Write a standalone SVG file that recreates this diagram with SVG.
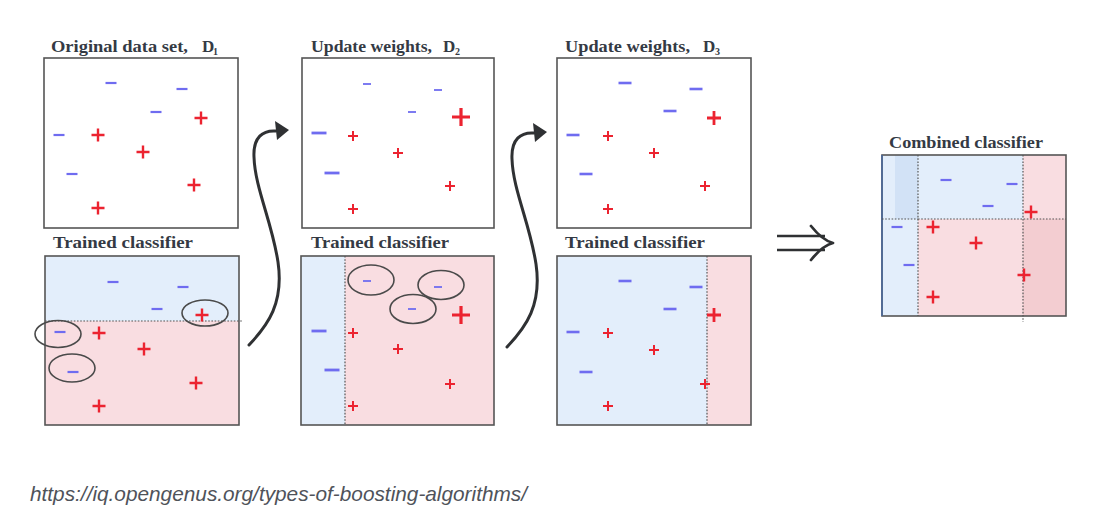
<svg xmlns="http://www.w3.org/2000/svg" width="1108" height="530" viewBox="0 0 1108 530">
<style>
.box{fill:none;stroke:#555;stroke-width:1.6}
.bl{fill:#e3eefb}
.pk{fill:#f9dde1}
.dot{stroke:#555;stroke-width:1.2;stroke-dasharray:1.6,1.6;fill:none}
.ttl{font-family:"Liberation Serif","Times New Roman",serif;font-weight:bold;font-size:17px;fill:#343a44}
.sub{font-family:"Liberation Serif","Times New Roman",serif;font-weight:bold;font-size:10px;fill:#343a44}
.neg{stroke:#6f6cf0;stroke-linecap:butt;fill:none}
.pos{stroke:#ec2330;stroke-linecap:butt;fill:none}
.ell{fill:none;stroke:#4a4a4a;stroke-width:1.6}
.conn{fill:none;stroke:#2f3133;stroke-width:3;stroke-linecap:round}
.head{fill:#2f3133}
.url{font-family:"Liberation Sans",Arial,sans-serif;font-style:italic;font-size:21px;fill:#4f535a}
</style>
<defs>
<path id="m1" class="neg" d="M-5.5,0H5.5" stroke-width="2.2"/>
<path id="p1" class="pos" d="M-6.5,0H6.5M0,-6.5V6.5" stroke-width="2.4"/>
<path id="mS" class="neg" d="M-4,0H4" stroke-width="1.8"/>
<path id="mL" class="neg" d="M-7.5,0H7.5" stroke-width="2.8"/>
<path id="mM" class="neg" d="M-6.5,0H6.5" stroke-width="2.6"/>
<path id="pS" class="pos" d="M-5,0H5M0,-5V5" stroke-width="2"/>
<path id="pL" class="pos" d="M-9,0H9M0,-9V9" stroke-width="3.2"/>
<path id="pM" class="pos" d="M-7,0H7M0,-7V7" stroke-width="2.8"/>
</defs>
<rect width="1108" height="530" fill="#fff"/>

<g id="panel-d1">
<text class="ttl" x="51" y="52" textLength="137" lengthAdjust="spacingAndGlyphs">Original data set,</text>
<text class="ttl" x="202" y="52">D</text><text class="sub" x="213" y="55">1</text>
<rect class="box" x="44" y="58" width="194" height="170" fill="#fff"/>
<use href="#m1" x="111" y="83"/><use href="#m1" x="182" y="89"/><use href="#m1" x="156" y="112"/>
<use href="#p1" x="201" y="118"/><use href="#m1" x="59" y="135"/><use href="#p1" x="98" y="135"/>
<use href="#p1" x="143" y="152"/><use href="#m1" x="72" y="174"/><use href="#p1" x="194" y="185"/>
<use href="#p1" x="98" y="208"/>
</g>

<g id="panel-c1">
<text class="ttl" x="53" y="248" textLength="140" lengthAdjust="spacingAndGlyphs">Trained classifier</text>
<rect class="bl" x="45" y="256" width="194" height="65"/>
<rect class="pk" x="45" y="321" width="194" height="104"/>
<rect class="box" x="45" y="256" width="194" height="169"/>
<path class="dot" d="M45,321H243"/>
<use href="#m1" x="113" y="282"/><use href="#m1" x="183" y="287"/><use href="#m1" x="157" y="309"/>
<use href="#p1" x="202" y="315"/><use href="#m1" x="60" y="332"/><use href="#p1" x="99" y="333"/>
<use href="#p1" x="144" y="349"/><use href="#m1" x="73" y="372"/><use href="#p1" x="196" y="383"/>
<use href="#p1" x="99" y="406"/>
<ellipse class="ell" cx="205" cy="313" rx="23" ry="13"/>
<ellipse class="ell" cx="58" cy="334" rx="23" ry="13.5"/>
<ellipse class="ell" cx="72" cy="368" rx="23" ry="14"/>
</g>

<g id="panel-d2">
<text class="ttl" x="311" y="52" textLength="121" lengthAdjust="spacingAndGlyphs">Update weights,</text>
<text class="ttl" x="443" y="52">D</text><text class="sub" x="455" y="55">2</text>
<rect class="box" x="302" y="58" width="192" height="170" fill="#fff"/>
<use href="#mS" x="367" y="84"/><use href="#mS" x="438" y="90"/><use href="#mS" x="412" y="112"/>
<use href="#pL" x="461" y="117"/><use href="#mL" x="319" y="133"/><use href="#pS" x="353" y="136"/>
<use href="#pS" x="398" y="153"/><use href="#mL" x="332" y="173"/><use href="#pS" x="450" y="186"/>
<use href="#pS" x="353" y="209"/>
</g>

<g id="panel-c2">
<text class="ttl" x="311" y="248" textLength="138" lengthAdjust="spacingAndGlyphs">Trained classifier</text>
<rect class="bl" x="301" y="256" width="44" height="169"/>
<rect class="pk" x="345" y="256" width="149" height="169"/>
<rect class="box" x="301" y="256" width="193" height="169"/>
<path class="dot" d="M345,256V425"/>
<ellipse class="ell" cx="371" cy="280" rx="23" ry="15"/>
<ellipse class="ell" cx="441" cy="285" rx="23" ry="14.5"/>
<ellipse class="ell" cx="413" cy="309" rx="23" ry="14.5"/>
<use href="#mS" x="367" y="281"/><use href="#mS" x="438" y="287"/><use href="#mS" x="412" y="309"/>
<use href="#pL" x="461" y="315"/><use href="#mL" x="319" y="331"/><use href="#pS" x="353" y="333"/>
<use href="#pS" x="398" y="349"/><use href="#mL" x="332" y="370"/><use href="#pS" x="450" y="384"/>
<use href="#pS" x="353" y="406"/>
</g>

<g id="panel-d3">
<text class="ttl" x="565" y="52" textLength="125" lengthAdjust="spacingAndGlyphs">Update weights,</text>
<text class="ttl" x="703" y="52">D</text><text class="sub" x="715" y="55">3</text>
<rect class="box" x="557" y="58" width="194" height="170" fill="#fff"/>
<use href="#mM" x="625" y="83"/><use href="#mM" x="696" y="89"/><use href="#mM" x="670" y="111"/>
<use href="#pM" x="714" y="118"/><use href="#mM" x="573" y="135"/><use href="#pS" x="608" y="136"/>
<use href="#pS" x="654" y="153"/><use href="#mM" x="586" y="174"/><use href="#pS" x="705" y="186"/>
<use href="#pS" x="608" y="209"/>
</g>

<g id="panel-c3">
<text class="ttl" x="565" y="248" textLength="140" lengthAdjust="spacingAndGlyphs">Trained classifier</text>
<rect class="bl" x="557" y="256" width="150" height="169"/>
<rect class="pk" x="707" y="256" width="44" height="169"/>
<rect class="box" x="557" y="256" width="194" height="169"/>
<path class="dot" d="M707,256V425"/>
<use href="#mM" x="625" y="281"/><use href="#mM" x="696" y="287"/><use href="#mM" x="670" y="309"/>
<use href="#pM" x="714" y="315"/><use href="#mM" x="573" y="332"/><use href="#pS" x="608" y="333"/>
<use href="#pS" x="654" y="350"/><use href="#mM" x="586" y="372"/><use href="#pS" x="705" y="384"/>
<use href="#pS" x="608" y="406"/>
</g>

<g id="panel-combined">
<text class="ttl" x="889" y="148" font-size="16" textLength="154" lengthAdjust="spacingAndGlyphs">Combined classifier</text>
<rect class="bl" x="882" y="155" width="36" height="161"/>
<rect x="895" y="155" width="23" height="64" fill="#d2e2f6"/>
<rect class="bl" x="918" y="155" width="105" height="64"/>
<rect class="pk" x="1023" y="155" width="43" height="64"/>
<rect class="pk" x="918" y="219" width="105" height="97"/>
<rect x="1023" y="219" width="43" height="97" fill="#f3cdd1"/>
<rect class="box" x="882" y="155" width="184" height="161"/>
<path d="M882,155V316" stroke="#4b6a9e" stroke-width="1.6"/>
<path class="dot" d="M882,219H918" stroke="#4b6fc0"/>
<path class="dot" d="M918,219H1066" stroke="#8a5050"/>
<path class="dot" d="M918,155V316" stroke="#4b6fc0"/>
<path class="dot" d="M1023,155V322"/>
<use href="#m1" x="946" y="180"/><use href="#m1" x="1012" y="184"/><use href="#m1" x="988" y="206"/>
<use href="#p1" x="1031" y="212"/><use href="#m1" x="897" y="227"/><use href="#p1" x="933" y="227"/>
<use href="#p1" x="976" y="243"/><use href="#m1" x="909" y="265"/><use href="#p1" x="1024" y="275"/>
<use href="#p1" x="933" y="297"/>
</g>

<g id="connectors">
<path class="conn" d="M249,345 C268,325 284,303 278,262 C272,222 255,188 254,157 C253,137 263,130 276,131"/>
<polygon class="head" points="289,130 275,121 277,140"/>
<g transform="translate(258,2)">
<path class="conn" d="M249,345 C268,325 284,303 278,262 C272,222 255,188 254,157 C253,137 263,130 276,131"/>
<polygon class="head" points="289,130 275,121 277,140"/>
</g>
<path d="M777,236H825M777,250H825" stroke="#2f3133" stroke-width="2.6" fill="none"/>
<path d="M811,226 C819,236 825,241 833,243 C825,245 819,250 811,260" stroke="#2f3133" stroke-width="2.8" fill="none" stroke-linecap="round" stroke-linejoin="round"/>
</g>

<text class="url" x="30" y="501" textLength="497" lengthAdjust="spacingAndGlyphs">https://iq.opengenus.org/types-of-boosting-algorithms/</text>
</svg>
